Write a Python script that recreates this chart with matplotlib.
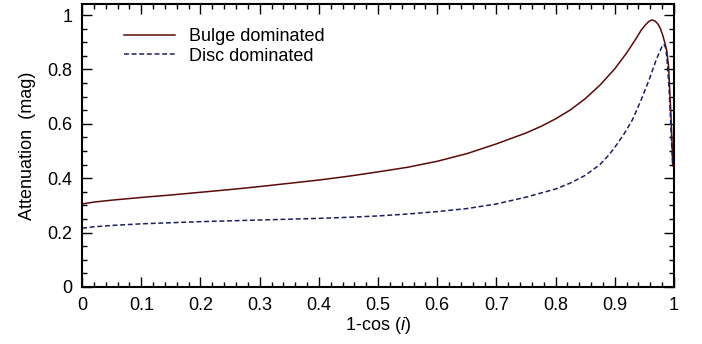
import matplotlib
matplotlib.use("Agg")
import matplotlib.pyplot as plt
from matplotlib.ticker import MultipleLocator

plt.rcParams['font.family'] = ['Liberation Sans', 'DejaVu Sans']
plt.rcParams['mathtext.fontset'] = 'custom'
plt.rcParams['mathtext.it'] = 'Liberation Sans:italic'
plt.rcParams['mathtext.rm'] = 'Liberation Sans'

# Data
bulge_x = [0.0, 0.02, 0.05, 0.1, 0.15, 0.2, 0.25, 0.3, 0.35, 0.4, 0.45, 0.5,
           0.55, 0.6, 0.65, 0.7, 0.75, 0.775, 0.8, 0.825, 0.85, 0.875, 0.9,
           0.92, 0.935, 0.945, 0.952, 0.958, 0.963, 0.968, 0.973, 0.977, 0.981,
           0.985, 0.988, 0.991, 0.993, 0.995, 0.997, 0.998]
bulge_y = [0.305, 0.312, 0.319, 0.329, 0.338, 0.348, 0.358, 0.369, 0.381, 0.393,
           0.407, 0.423, 0.440, 0.462, 0.490, 0.526, 0.566, 0.590, 0.618, 0.651,
           0.692, 0.742, 0.802, 0.860, 0.910, 0.945, 0.964, 0.977, 0.982, 0.978,
           0.967, 0.951, 0.926, 0.895, 0.868, 0.810, 0.720, 0.630, 0.520, 0.445]

disc_x = [0.0, 0.02, 0.05, 0.1, 0.15, 0.2, 0.25, 0.3, 0.35, 0.4, 0.45, 0.5,
          0.55, 0.6, 0.65, 0.7, 0.75, 0.8, 0.825, 0.85, 0.875, 0.89, 0.9, 0.915,
          0.93, 0.945, 0.959, 0.97, 0.976, 0.98, 0.983, 0.986, 0.988, 0.99,
          0.992, 0.994, 0.996, 0.998]
disc_y = [0.216, 0.221, 0.226, 0.232, 0.236, 0.240, 0.243, 0.246, 0.249, 0.252,
          0.256, 0.261, 0.268, 0.277, 0.288, 0.305, 0.330, 0.360, 0.382, 0.410,
          0.450, 0.485, 0.513, 0.560, 0.615, 0.690, 0.767, 0.835, 0.865, 0.885,
          0.892, 0.880, 0.845, 0.790, 0.720, 0.630, 0.530, 0.450]

x_ticks = [0, 0.1, 0.2, 0.3, 0.4, 0.5, 0.6, 0.7, 0.8, 0.9, 1]
x_labels = ['0', '0.1', '0.2', '0.3', '0.4', '0.5', '0.6', '0.7', '0.8', '0.9', '1']
y_ticks = [0, 0.2, 0.4, 0.6, 0.8, 1]
y_labels = ['0', '0.2', '0.4', '0.6', '0.8', '1']

fig = plt.figure(figsize=(7.02, 3.44), dpi=100)
ax = fig.add_axes([0.117, 0.166, 0.843, 0.822])

ax.plot(bulge_x, bulge_y, color='#5c0a0a', lw=1.1, label='Bulge dominated')
ax.plot(disc_x, disc_y, color='#1c1f5e', lw=1.1, ls=(0, (3.2, 1.8)), label='Disc dominated')

ax.set_xlim(0, 1)
ax.set_ylim(0, 1.04)
ax.set_xticks(x_ticks)
ax.set_xticklabels(x_labels)
ax.set_yticks(y_ticks)
ax.set_yticklabels(y_labels)
ax.xaxis.set_minor_locator(MultipleLocator(0.02))
ax.yaxis.set_minor_locator(MultipleLocator(0.05))
ax.tick_params(which='both', direction='in', top=True, right=True, labelsize=13, width=1)
ax.tick_params(which='major', length=7, pad=7)
ax.tick_params(which='minor', length=3.5)
for s in ax.spines.values():
    s.set_linewidth(1.5)

ax.set_xlabel(r'1-cos ($\mathit{i}$)', fontsize=13, labelpad=1)
ax.set_ylabel('Attenuation  (mag)', fontsize=13, labelpad=8)

ax.legend(loc='upper left', frameon=False, fontsize=13, handlelength=2.8,
          handletextpad=0.8, labelspacing=0.15, borderaxespad=0.3,
          bbox_to_anchor=(0.05, 0.96))

fig.savefig('out.png', dpi=100)
